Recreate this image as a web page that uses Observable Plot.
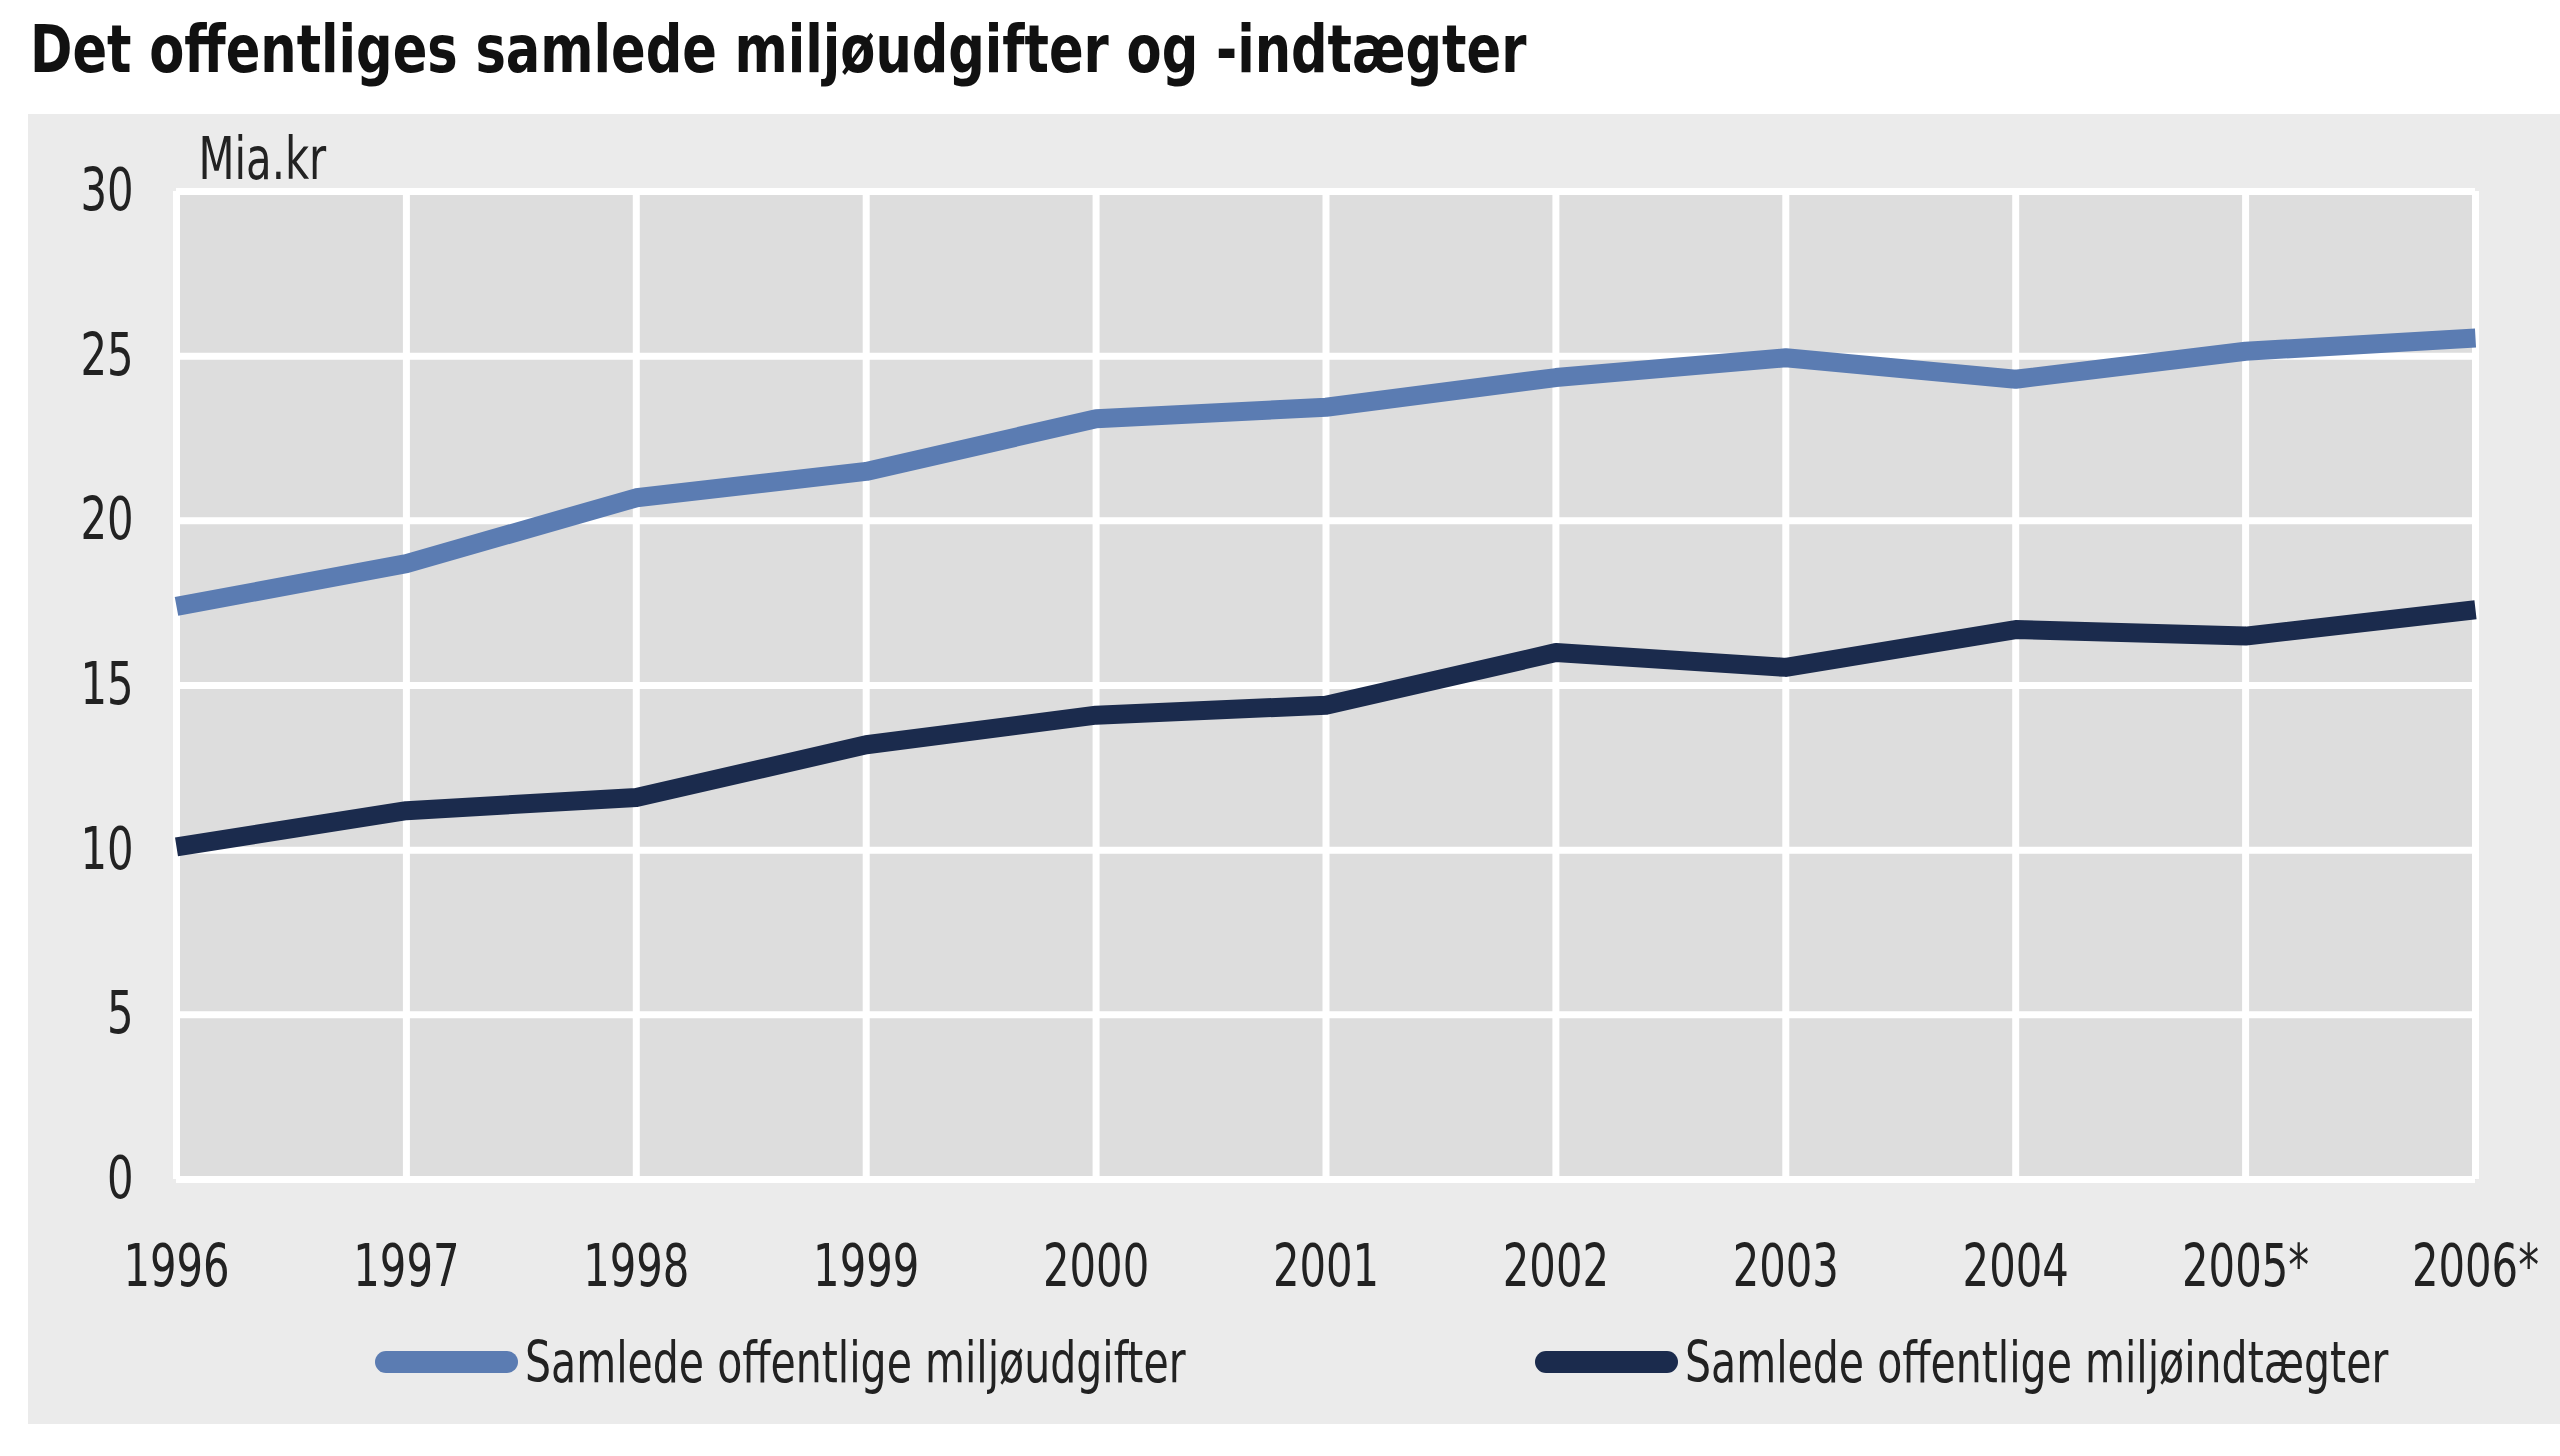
<!DOCTYPE html>
<html>
<head>
<meta charset="utf-8">
<script src="https://cdn.jsdelivr.net/npm/d3@7"></script>
<script src="https://cdn.jsdelivr.net/npm/@observablehq/plot@0.6"></script>
<style>
  html, body { margin: 0; padding: 0; background: #ffffff; }
  body { width: 2560px; height: 1456px; position: relative; overflow: hidden;
         font-family: "Liberation Sans Narrow", "Arial Narrow", "DejaVu Sans Condensed", sans-serif; color: #222; }
  #title { position: absolute; left: 30px; top: 17px; font-size: 66px; line-height: 1; font-weight: bold; color: #111; white-space: nowrap;
           transform: scaleX(0.86); transform-origin: 0 0; }
  #panel { position: absolute; left: 28px; top: 114px; width: 2532px; height: 1310px; background: #ebebeb; }
  #chart { position: absolute; left: 0; top: 0; }
  .leg { position: absolute; top: 1218px; height: 60px; display: flex; align-items: center; white-space: nowrap; font-size: 57px; color: #222; }
  .sw { width: 143px; height: 22px; border-radius: 11px; margin-right: 7px; flex: none; }
  .lt { display: inline-block; transform: scaleX(0.8); transform-origin: 0 50%; }
</style>
</head>
<body>
<div id="title"></div>
<div id="panel">
  <div id="chart"></div>
  <div class="leg" id="leg0" style="left:347px"></div>
  <div class="leg" id="leg1" style="left:1507px"></div>
</div>
<script>
// ---- data ----
const years = [1996, 1997, 1998, 1999, 2000, 2001, 2002, 2003, 2004, 2005, 2006];
const yearLabels = ["1996", "1997", "1998", "1999", "2000", "2001", "2002", "2003", "2004", "2005*", "2006*"];
const udgifter = [17.4, 18.7, 20.7, 21.5, 23.1, 23.45, 24.35, 24.95, 24.3, 25.15, 25.55];
const indtaegter = [10.1, 11.2, 11.6, 13.2, 14.1, 14.4, 16.0, 15.55, 16.7, 16.5, 17.3];
const seriesNames = ["Samlede offentlige miljøudgifter", "Samlede offentlige miljøindtægter"];
const seriesColors = ["#5b7cb2", "#1b2b4d"];
const yTicks = [0, 5, 10, 15, 20, 25, 30];
const titleText = "Det offentliges samlede miljøudgifter og -indtægter";
const unitText = "Mia.kr";

// ---- build ----
document.getElementById("title").textContent = titleText;

const rows = years.map((y, i) => ({year: y, udg: udgifter[i], ind: indtaegter[i]}));
const labelOf = Object.fromEntries(years.map((y, i) => [y, yearLabels[i]]));
const font = '"Liberation Sans Narrow", "Arial Narrow", "DejaVu Sans Condensed", sans-serif';

const chart = Plot.plot({
  width: 2532,
  height: 1200,
  marginLeft: 148,
  marginRight: 85,
  marginTop: 77,
  marginBottom: 135,
  style: {background: "transparent", fontFamily: font, fontSize: "58px", color: "#222", overflow: "visible"},
  x: {domain: [years[0], years[years.length - 1]]},
  y: {domain: [yTicks[0], yTicks[yTicks.length - 1]]},
  marks: [
    Plot.frame({fill: "#dddddd", stroke: null}),
    Plot.gridX(years, {stroke: "#ffffff", strokeOpacity: 1, strokeWidth: 7}),
    Plot.gridY(yTicks, {stroke: "#ffffff", strokeOpacity: 1, strokeWidth: 7}),
    Plot.axisX(years, {tickSize: 0, tickPadding: 65, tickFormat: d => labelOf[d], fontSize: 58, fill: "#222", label: null}),
    Plot.axisY(yTicks, {tickSize: 0, tickPadding: 43, fontSize: 58, fill: "#222", label: null}),
    Plot.line(rows, {x: "year", y: "udg", stroke: seriesColors[0], strokeWidth: 19, strokeLinejoin: "round", strokeLinecap: "butt"}),
    Plot.line(rows, {x: "year", y: "ind", stroke: seriesColors[1], strokeWidth: 19, strokeLinejoin: "round", strokeLinecap: "butt"}),
    Plot.text([unitText], {frameAnchor: "top-left", text: d => d, dx: 22, dy: -13, lineAnchor: "bottom", textAnchor: "start", fontSize: 58, fill: "#222"})
  ]
});
// narrow the fallback font horizontally to mimic a condensed face
chart.querySelectorAll("text").forEach(t => {
  const tr = t.getAttribute("transform") || "";
  t.setAttribute("transform", (tr + " scale(0.8,1)").trim());
});
document.getElementById("chart").appendChild(chart);

seriesNames.forEach((name, i) => {
  const el = document.getElementById("leg" + i);
  const sw = document.createElement("div");
  sw.className = "sw";
  sw.style.background = seriesColors[i];
  const tx = document.createElement("span");
  tx.className = "lt";
  tx.textContent = name;
  el.appendChild(sw);
  el.appendChild(tx);
});
</script>
</body>
</html>
